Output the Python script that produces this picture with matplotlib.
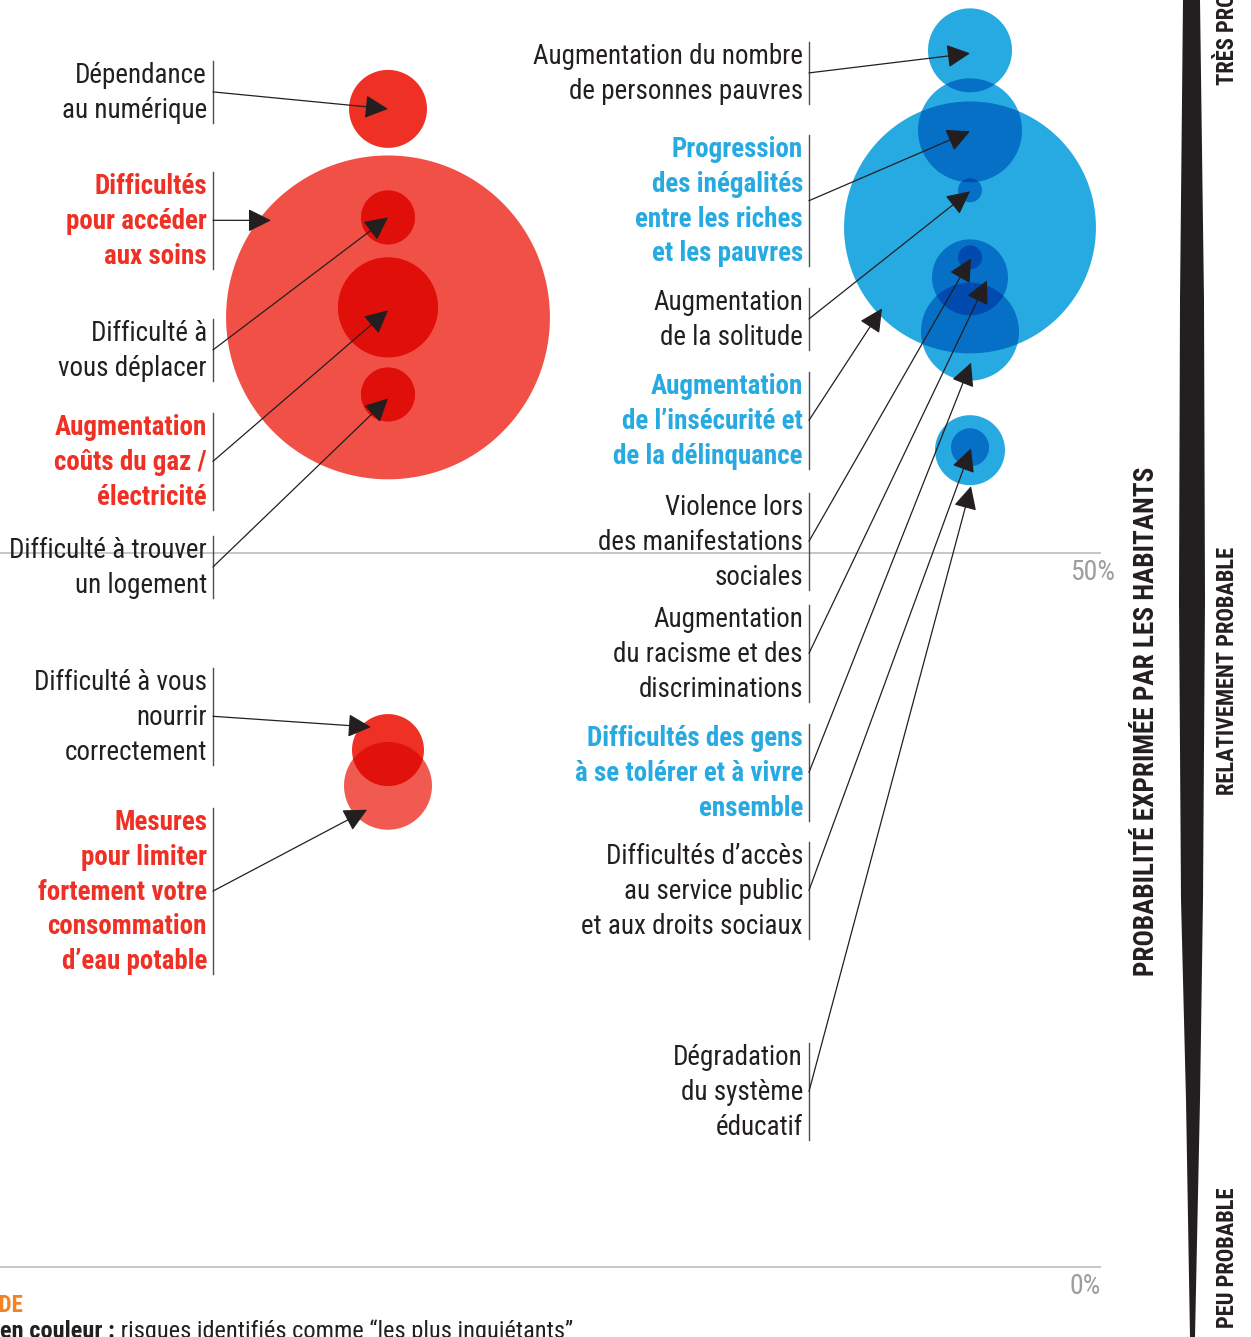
import numpy as np
import matplotlib.pyplot as plt
from matplotlib.patches import Polygon
from matplotlib.colors import to_rgb
from matplotlib.font_manager import FontProperties, findfont
from matplotlib.textpath import TextPath

# ---- data -------------------------------------------------------------
red_labels = [
    "Dépendance\nau numérique",
    "Difficultés\npour accéder\naux soins",
    "Difficulté à\nvous déplacer",
    "Augmentation\ncoûts du gaz /\nélectricité",
    "Difficulté à trouver\nun logement",
    "Difficulté à vous\nnourrir\ncorrectement",
    "Mesures\npour limiter\nfortement votre\nconsommation\nd’eau potable",
]
red_prob = [81.1, 66.5, 73.5, 67.2, 61.1, 36.2, 33.7]      # % probabilité
red_size = [2.73, 11.34, 1.89, 3.5, 1.89, 2.52, 3.08]     # rayon de bulle
red_worry = [False, True, False, True, False, False, True]

blue_labels = [
    "Augmentation du nombre\nde personnes pauvres",
    "Progression\ndes inégalités\nentre les riches\net les pauvres",
    "Augmentation\nde la solitude",
    "Augmentation\nde l’insécurité et\nde la délinquance",
    "Violence lors\ndes manifestations\nsociales",
    "Augmentation\ndu racisme et des\ndiscriminations",
    "Difficultés des gens\nà se tolérer et à vivre\nensemble",
    "Difficultés d’accès\nau service public\net aux droits sociaux",
    "Dégradation\ndu système\néducatif",
]
blue_prob = [85.2, 79.6, 75.4, 72.8, 70.7, 69.3, 65.5, 57.4, 57.2]
blue_size = [2.94, 3.64, 0.84, 8.82, 0.84, 2.66, 3.43, 1.33, 2.45]
blue_worry = [False, True, False, True, False, False, True, False, False]

tick_values = [0, 50]
tick_labels = ["0%", "50%"]

# ---- layout / style ---------------------------------------------------
W, H = 1251, 1337
PX = 14.28          # pixels per %
Y0 = 1267           # pixel row of 0 %

RED = "#EE3124"
RED_BIG = "#F15046"
RED_SOFT = "#F15A50"
BLUE = "#27A9E1"
INK = "#231F20"
BAR = "#4D4D4F"

red_colors = [RED, RED_BIG, RED, RED, RED, RED, RED_SOFT]
blue_colors = [BLUE] * 9

red_x, blue_x = 388 / PX, 970 / PX
red_text_y = [73, 184, 331, 425, 548, 680, 820]
blue_text_y = [54, 147, 300, 384, 505, 617, 736, 854, 1055]
# arrow tip offsets from bubble centre (px, y down)
red_tip = [(0, 0), (-117, -97), (0, 0), (0, 3), (0, 4), (-17, -23), (-21, 24)]
blue_tip = [(0, 3), (0, 1), (0, 1), (-88, 81), (1, 1), (17, 3), (1, 31), (1, 1), (1, 36)]


def pick_font():
    cands = [("Liberation Sans Narrow", "normal", ""),
             ("Roboto Condensed", "normal", ""),
             ("Noto Sans", "condensed", "ondensed"),
             ("Open Sans Condensed", "normal", ""),
             ("Open Sans", "condensed", "ondensed"),
             ("DejaVu Sans", "condensed", "ondensed"),
             ("Noto Sans", "semi-condensed", "ondensed")]
    for fam, st, tag in cands:
        try:
            path = findfont(FontProperties(family=fam, stretch=st), fallback_to_default=False)
        except Exception:
            continue
        if tag and tag not in path:
            continue
        return fam, st
    return "DejaVu Sans", "normal"


FAM, STRETCH = pick_font()


def fp(size, bold=False):
    return FontProperties(family=[FAM, "DejaVu Sans"], stretch=STRETCH, size=size,
                          weight="bold" if bold else "normal")


def fit(s, target_px, bold=False):
    w = TextPath((0, 0), s, size=10, prop=fp(10, bold)).get_extents().width
    return 10 * target_px / (w * 100 / 72)


LABEL_SIZE = min(fit("Augmentation du nombre", 268), 21)


def P(xp, yp):
    return xp / PX, (Y0 - yp) / PX


def circle_poly(cx, cy, r, n=160):
    t = np.linspace(0, 2 * np.pi, n, endpoint=False)
    return np.column_stack([cx + r * np.cos(t), cy + r * np.sin(t)])


def clip(subject, clipper):
    # Sutherland-Hodgman, both convex and counter-clockwise
    out = list(subject)
    n = len(clipper)
    for i in range(n):
        a, b = clipper[i], clipper[(i + 1) % n]
        inp, out = out, []
        if not inp:
            break
        d = b - a
        s = inp[-1]
        for e in inp:
            e_in = d[0] * (e[1] - a[1]) - d[1] * (e[0] - a[0]) >= 0
            s_in = d[0] * (s[1] - a[1]) - d[1] * (s[0] - a[0]) >= 0
            if e_in != s_in:
                u = e - s
                den = d[0] * u[1] - d[1] * u[0]
                k = (d[1] * (s[0] - a[0]) - d[0] * (s[1] - a[1])) / den
                out.append(s + k * u)
            if e_in:
                out.append(e)
            s = e
    return np.array(out)


def draw_bubbles(ax, x, ys, rs, colors):
    # emulate multiply blending: overlaps get the product of the colours
    polys = [circle_poly(x, y, r) for y, r in zip(ys, rs)]
    regions = []
    for i, poly in enumerate(polys):
        c = np.array(to_rgb(colors[i]))
        new = []
        for rp, rc, depth, members in regions:
            if all(abs(ys[i] - ys[m]) < rs[i] + rs[m] for m in members):
                inter = clip(rp, poly)
                if len(inter) >= 3:
                    new.append((inter, rc * c, depth + 1, members + [i]))
        regions.append((poly, c, 1, [i]))
        regions.extend(new)
    regions.sort(key=lambda r: r[2])
    for rp, rc, depth, members in regions:
        ax.add_patch(Polygon(rp, closed=True, facecolor=rc, edgecolor="none",
                             zorder=1 + depth * 0.01))


def draw_labels(ax, labels, worry, text_y, right_x, bar_x, col, cx, ys, tips):
    for lab, hot, ty, y, (dx, dy) in zip(labels, worry, text_y, ys, tips):
        lines = lab.split("\n")
        step = 34.8
        for k, line in enumerate(lines):
            ax.text(*P(right_x, ty + k * step + 10), line, ha="right", va="baseline",
                    fontproperties=fp(LABEL_SIZE, hot), color=col if hot else INK,
                    zorder=5)
        top = ty - 12
        bot = ty + (len(lines) - 1) * step + 15
        ax.plot(*zip(P(bar_x, top), P(bar_x, bot)), color=BAR, lw=1.0, zorder=5)
        start = P(bar_x, (top + bot) / 2)
        tip = (cx + dx / PX, y - dy / PX)
        ax.annotate("", xy=tip, xytext=start,
                    arrowprops=dict(arrowstyle="-|>,head_length=0.6,head_width=0.3",
                                    mutation_scale=24, color=INK, lw=0.9,
                                    shrinkA=0, shrinkB=0), zorder=6)


fig = plt.figure(figsize=(W / 100, H / 100), dpi=100)
ax = fig.add_axes([0, 0, 1, 1])
ax.set_xlim(0, W / PX)
ax.set_ylim((Y0 - H) / PX, Y0 / PX)
ax.set_aspect("equal")
ax.set_axis_off()

# grid lines and tick labels
for v, t in zip(tick_values, tick_labels):
    ax.plot([0, 1100 / PX], [v, v], color="#C6C6C6", lw=1.4, zorder=0)
    ax.text(1070 / PX, v - 19 / PX, t, ha="left", va="center",
            fontproperties=fp(LABEL_SIZE * 1.03), color="#9D9D9F", zorder=5)

draw_bubbles(ax, red_x, red_prob, red_size, red_colors)
draw_bubbles(ax, blue_x, blue_prob, blue_size, blue_colors)

draw_labels(ax, red_labels, red_worry, red_text_y, 207, 213, RED, red_x, red_prob, red_tip)
draw_labels(ax, blue_labels, blue_worry, blue_text_y, 803, 809, BLUE, blue_x, blue_prob, blue_tip)

# brush-like scale bar on the right
ys = [0, 300, 600, 900, 1100, 1337]
left = [1183, 1180, 1179, 1181, 1186, 1190]
right = [1200, 1204, 1205, 1203, 1200, 1195]
pts = [P(x, y) for x, y in zip(left, ys)] + [P(x, y) for x, y in zip(right[::-1], ys[::-1])]
ax.add_patch(Polygon(pts, closed=True, facecolor=INK, edgecolor="none", zorder=2))

axis_title = "PROBABILITÉ EXPRIMÉE PAR LES HABITANTS"
ax.text(*P(1147, 721), axis_title, rotation=90, ha="center", va="center",
        fontproperties=fp(fit(axis_title, 507, True), True), color=INK)
scale_size = fit("RELATIVEMENT PROBABLE", 247, True)
ax.text(*P(1228, 85), "TRÈS PROBABLE", rotation=90, ha="center", va="bottom",
        fontproperties=fp(scale_size, True), color=INK)
ax.text(*P(1228, 671), "RELATIVEMENT PROBABLE", rotation=90, ha="center", va="center",
        fontproperties=fp(scale_size, True), color=INK)
ax.text(*P(1228, 1258), "PEU PROBABLE", rotation=90, ha="center", va="center",
        fontproperties=fp(scale_size, True), color=INK)

# legend (cut by the frame)
leg_text = " risques identifiés comme “les plus inquiétants”"
leg_size = fit("en couleur :" + leg_text, 568)
ax.text(*P(23, 1312), "LÉGENDE", ha="right", va="baseline",
        fontproperties=fp(LABEL_SIZE * 0.85, True), color="#F58220")
t1 = ax.text(*P(0, 1338), "en couleur :", ha="left", va="baseline",
             fontproperties=fp(leg_size, True), color=INK)
ax.annotate(leg_text, xy=(1, 0), xycoords=t1, ha="left", va="bottom",
            fontproperties=fp(leg_size), color=INK)

fig.savefig("out.png", dpi=100)
